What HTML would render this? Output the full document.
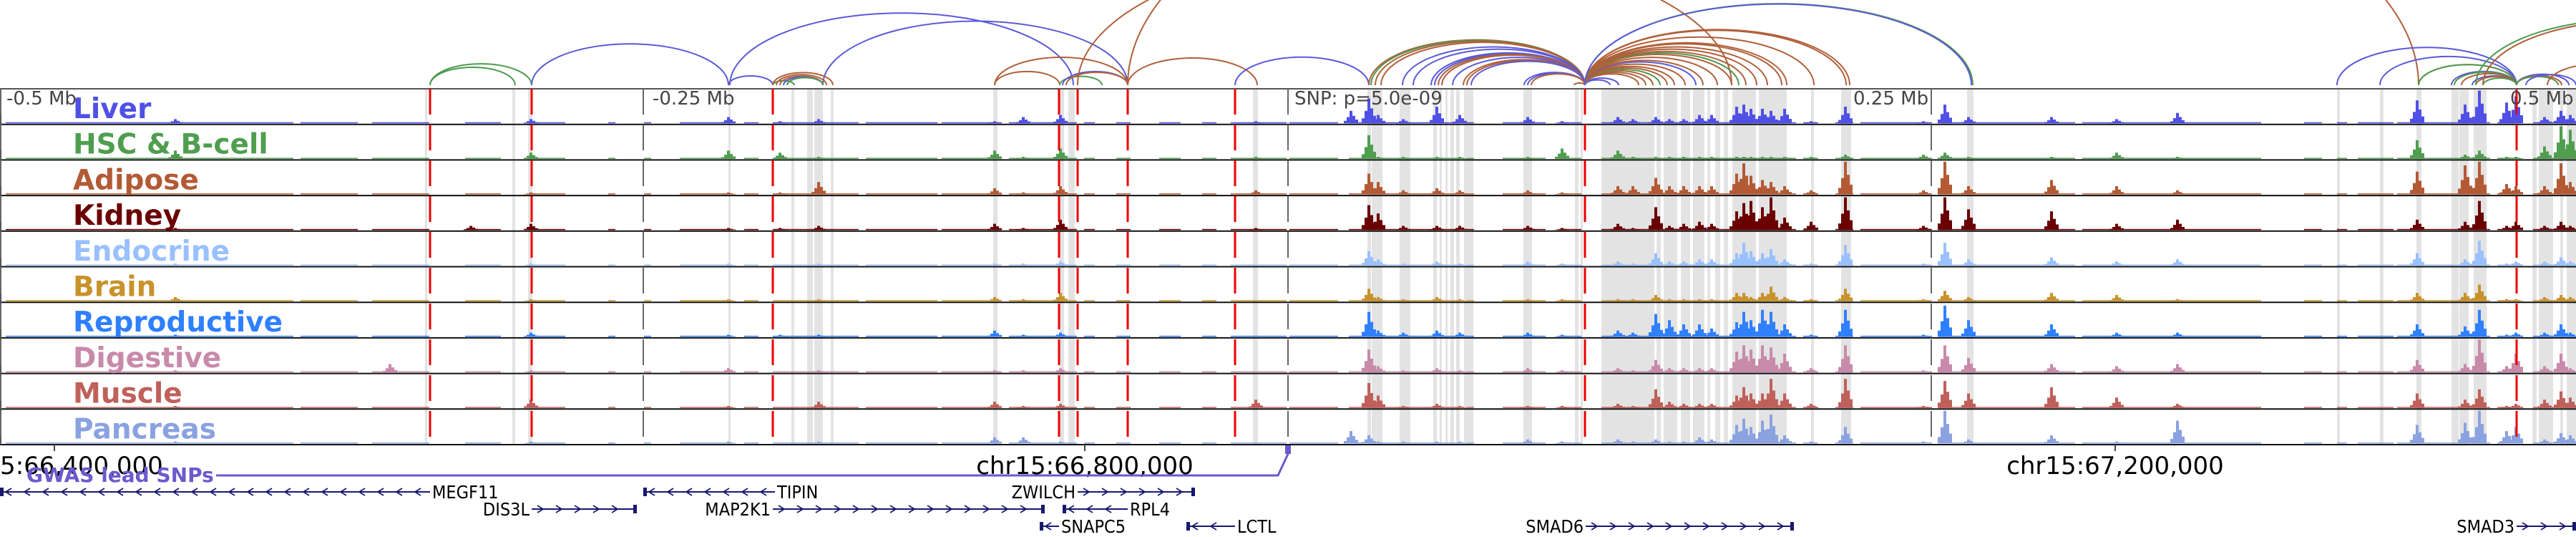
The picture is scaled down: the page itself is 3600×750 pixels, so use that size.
<!DOCTYPE html>
<html><head><meta charset="utf-8">
<style>
html,body{margin:0;padding:0;background:#fff;}
svg{display:block;}
.lbl{font-family:"DejaVu Sans","Liberation Sans",sans-serif;font-weight:bold;font-size:39px;}
.mb{font-family:"DejaVu Sans","Liberation Sans",sans-serif;font-size:26px;fill:#444;}
.ax{font-family:"DejaVu Sans","Liberation Sans",sans-serif;font-size:34px;fill:#000;}
.gene{font-family:"DejaVu Sans Condensed","DejaVu Sans","Liberation Sans",sans-serif;font-size:25px;fill:#000;}
</style></head>
<body>
<svg id="fig" width="3600" height="750" viewBox="0 0 3600 750" xmlns="http://www.w3.org/2000/svg">
  <g id="shade"></g>
  <g id="arcs"></g>
  <g id="tracks"></g>
  <g id="vlines"></g>
  <g id="labels"></g>
  <g id="axis"></g>
  <g id="gwas"></g>
  <g id="genes"></g>
</svg>
<script>
// ---------- data ----------
const tissueNames = ["Liver","HSC & B-cell","Adipose","Kidney","Endocrine","Brain","Reproductive","Digestive","Muscle","Pancreas"];
const tissueColors = ["#5050e6","#4f9e4f","#b35a35","#6b0000","#99c0ff","#c8922a","#2f80ff","#c88aaa","#c0605a","#8aa2e0"];
const peakPosPx = [245,545,658,742,1018,1090,1144,1390,1430,1482,1755,1888,1913,1926,1961,2008,2040,2135,2183,2261,2282,2314,2333,2353,2375,2392,2427,2437,2447,2463,2475,2494,2531,2579,2688,2718,2751,2867,2958,3043,3378,3445,3465,3503,3516,3556,3579,3592];
const peakKb = peakPosPx.map(p => (p-1800)/3.6);
const hLiver = [.1,0,0,.1,.15,.05,.1,.05,.15,.2,.05,.3,.6,.2,.1,.4,.2,.15,.05,.15,.1,.15,.1,.1,.2,.2,.4,.45,.35,.35,.3,.35,.05,.4,.05,.45,.15,.15,.1,.25,.55,.45,.95,.5,.65,.15,.3,.2];
const hHSC = [.2,0,0,.15,.2,.15,.05,.2,.05,.25,.05,0,.57,.05,.05,.05,.05,.05,.25,.2,.05,.05,.05,.05,.05,.05,.05,.05,.05,.05,.05,.05,.05,.1,.1,.15,.05,.05,.15,.05,.45,.1,.2,.05,.05,.3,.95,.7];
const hAdipose = [.02,0,0,.05,.05,.05,.3,.15,.05,.2,.1,0,.5,.3,.1,.15,.1,.1,.05,.2,.2,.4,.2,.2,.2,.2,.5,.75,.45,.35,.3,.2,.1,.95,.1,.95,.2,.35,.2,.1,.55,.7,.95,.25,.2,.2,.75,.3];
const hKidney = [.05,0,.1,.15,.05,.05,.1,.15,.05,.25,.05,0,.6,.4,.1,.1,.1,.1,.05,.15,.05,.55,.1,.15,.2,.15,.45,.65,.7,.55,.95,.3,.2,.85,.1,.8,.5,.45,.15,.25,.25,.2,.7,.1,.2,.1,.2,.1];
const hEndocrine = [.05,0,0,.05,.05,0,.05,.05,.05,.1,0,0,.35,.15,.05,.1,.05,.1,.05,.1,.05,.3,.1,.1,.15,.15,.3,.55,.35,.3,.4,.15,.05,.5,.05,.55,.15,.2,.1,.15,.3,.15,.6,.05,.1,.1,.2,.1];
const hBrain = [.1,0,0,.05,.05,0,.05,.1,.05,.2,0,0,.3,.1,.05,.1,.05,.05,.05,.05,.05,.15,.05,.05,.05,.05,.2,.2,.1,.2,.35,.1,.05,.3,.05,.25,.1,.2,.15,.05,.2,.2,.4,.05,.05,.1,.15,.1];
const hRepro = [.05,0,0,.1,.05,.05,.05,.15,.05,.1,0,0,.6,.15,.1,.15,.1,.1,.05,.15,.1,.55,.4,.3,.3,.2,.35,.6,.4,.65,.6,.3,.05,.65,.05,.75,.4,.3,.1,.1,.3,.25,.65,.05,.1,.1,.3,.1];
const hDigestive = [.05,.2,0,.05,.1,0,.05,.05,.05,.1,0,0,.55,.15,.05,.1,.05,.1,.05,.1,.05,.3,.1,.1,.1,.1,.5,.65,.55,.65,.6,.45,.1,.65,.05,.65,.35,.2,.15,.2,.3,.2,.95,.15,.45,.15,.45,.1];
const hMuscle = [.05,0,0,.2,.05,0,.15,.15,.05,.1,.2,0,.6,.3,.05,.1,.05,.05,.05,.1,.05,.45,.15,.1,.1,.1,.3,.5,.35,.35,.7,.35,.1,.7,.05,.65,.35,.5,.25,.1,.35,.2,.45,.05,.1,.2,.4,.25];
const hPancreas = [.05,0,0,.05,.05,0,.05,.15,.15,.05,0,.3,.2,.05,.05,.05,.05,.1,.05,.1,.05,.1,.05,.05,.15,.1,.45,.6,.4,.55,.7,.2,.05,.4,.05,.8,.1,.2,.05,.55,.45,.5,.95,.3,.4,.1,.25,.2];
const heightsByTrack = [hLiver,hHSC,hAdipose,hKidney,hEndocrine,hBrain,hRepro,hDigestive,hMuscle,hPancreas];
const baseSegs = [[8,410],[420,500],[520,600],[650,700],[740,790],[850,860],[900,910],[950,1020],[1040,1060],[1080,1200],[1210,1310],[1316,1400],[1410,1505],[1515,1530],[1560,1580],[1620,1650],[1680,1700],[1720,1798],[1802,1870],[1885,2040],[2050,2060],[2100,2160],[2180,2210],[2238,2510],[2520,2540],[2565,2590],[2600,2700],[2710,2900],[2910,3160],[3220,3245],[3266,3280],[3295,3345],[3350,3480],[3490,3520],[3540,3600]];
const shadeRanges = [[594,597],[716,720],[738,744],[1018,1021],[1106,1110],[1128,1136],[1138,1150],[1161,1165],[1388,1394],[1481,1487],[1493,1502],[1751,1758],[1911,1916],[1917,1932],[1956,1971],[2003,2008],[2012,2015],[2020,2023],[2027,2032],[2035,2040],[2046,2059],[2129,2141],[2201,2206],[2209,2212],[2238,2312],[2315,2321],[2325,2344],[2349,2362],[2366,2382],[2386,2390],[2397,2404],[2409,2415],[2421,2454],[2458,2497],[2531,2535],[2573,2587],[2749,2758],[3266,3270],[3326,3331],[3377,3384],[3426,3436],[3437,3450],[3457,3475],[3539,3545],[3548,3568],[3578,3582],[3587,3600]];
const redLines = [601,743,1080,1480,1506,1576,1726,2215,3517];
const grayLines = [1,899,1800,2699];
const arcStart = [601,601,743,1018,1020,1150,1080,1080,1085,1090,1095,1100,1390,1390,1481,1485,1490,1506,1576,1576,1726,
 1913,1916,1922,1930,1960,1975,2000,2005,2010,2015,2030,2045,2050,2056,2130,2135,2140,2200,
 2215,2215,2215,2215,2215,2215,2215,2215,2215,2215,2215,2215,2215,2215,2215,2215,2215,2215,2215,2215,2215,2215,2215,2215,
 3266,3326,3380,3380,3426,3430,3440,3455,3460,3470,3517,3517,3517,3530,3460,3470,3560];
const arcEnd = [743,720,1018,1080,1500,1576,1110,1164,1155,1150,1150,1150,1481,1576,1540,1576,1576,2420,1757,3380,1913,
 2215,2215,2215,2215,2215,2215,2215,2215,2215,2215,2215,2215,2215,2215,2215,2215,2215,2215,
 2250,2262,2290,2300,2310,2320,2330,2340,2355,2370,2380,2400,2420,2430,2440,2455,2470,2490,2497,2535,2580,2585,2757,2755,
 3517,3517,3517,3517,3517,3517,3517,3517,3517,3517,3590,3580,3575,3600,3900,3900,3700];
const arcType = ["g","g","l","l","l","l","g","b","b","b","l","g","b","b","g","l","b","b","b","b","l",
 "b","g","b","b","l","l","l","l","b","b","l","b","b","l","l","l","b","b",
 "l","l","b","b","b","g","b","b","b","l","b","b","b","g","b","b","b","b","b","b","b","b","g","l",
 "l","l","b","g","l","g","b","l","b","g","l","b","g","l","g","b","b"];
const arcColors = {l:"#5a5ad8",g:"#4e9a4e",b:"#b0603a"};
const tickPos = [66400000,66800000,67200000];
const tickLabels = ["chr15:66,400,000","chr15:66,800,000","chr15:67,200,000"];
const mbLabels = ["-0.5 Mb","-0.25 Mb","SNP: p=5.0e-09","0.25 Mb","0.5 Mb"];
const geneNames = ["MEGF11","DIS3L","TIPIN","MAP2K1","ZWILCH","RPL4","SNAPC5","LCTL","SMAD6","SMAD3"];
const geneStart = [0,743,899,1080,1506,1485,1453,1658,2216,3517];
const geneEnd = [601,890,1083,1460,1670,1576,1480,1726,2507,3600];
const geneRow = [0,1,0,1,0,1,2,2,2,2];
const geneStrand = [-1,1,-1,1,1,-1,-1,-1,1,1];
const geneLabelLeft = [false,true,false,true,true,false,false,false,true,true];

// ---------- scales ----------
const NS = "http://www.w3.org/2000/svg";
const TOP = 124, TH = 49.7, NT = 10, MAXH = 58;
const xKb = kb => 1800 + kb*3.6;
const xG = g => 76 + (g-66400000)/1000*3.6;
function el(tag, attrs, parent){ const e=document.createElementNS(NS,tag); for(const k in attrs) e.setAttribute(k,attrs[k]); parent.appendChild(e); return e; }

const gS = document.getElementById('shade');
shadeRanges.forEach(r=>{
  const e = el('rect',{x:r[0],y:TOP,width:r[1]-r[0],height:TH*NT,fill:'#e3e3e3'},gS);
  
  
});

const gA = document.getElementById('arcs');
const ARCBASE = 119;
const clip = el('clipPath',{id:'arcclip'},gA); el('rect',{x:0,y:0,width:3600,height:ARCBASE+1},clip);
const gAc = el('g',{'clip-path':'url(#arcclip)'},gA);
arcStart.forEach((s,i)=>{
  const e2 = arcEnd[i], rx=(e2-s)/2, ry=0.42*rx;
  const p = el('path',{d:`M${s},${ARCBASE} A${rx},${ry} 0 0 1 ${e2},${ARCBASE}`,fill:'none',stroke:arcColors[arcType[i]],'stroke-width':2},gAc);
  
  
});

const gT = document.getElementById('tracks');
for(let t=0;t<NT;t++){
  const top = TOP+t*TH, base = top+TH-1.5, col = tissueColors[t];
  const g = el('g',{},gT);
  
  
  baseSegs.forEach(s=>{ el('rect',{x:s[0],y:base-1.5,width:s[1]-s[0],height:1.5,fill:col},g); });
  const hs = heightsByTrack[t];
  peakKb.forEach((kb,i)=>{
    const h=Math.min((hs[i]||0)*MAXH, TH-4); if(h<=0) return; const x=xKb(kb);
    const shape=[[-10,0.2],[-6,0.5],[-2,1],[2,0.6],[6,0.3]];
    shape.forEach(([dx,f])=>{
      const b = el('rect',{x:x+dx,y:base-h*f,width:4,height:h*f,fill:col},g);
      
      
    });
  });
  el('line',{x1:0,x2:3600,y1:top+TH,y2:top+TH,stroke:'#111','stroke-width':2},g);
}
el('line',{x1:0,x2:3600,y1:TOP,y2:TOP,stroke:'#555','stroke-width':2},gT);
el('line',{x1:1,x2:1,y1:TOP,y2:TOP+TH*NT,stroke:'#555','stroke-width':2},gT);

const gV = document.getElementById('vlines');
grayLines.forEach(x=>{ const l=el('line',{x1:x,x2:x,y1:TOP,y2:TOP+TH*NT,stroke:'#666','stroke-width':2,'stroke-dasharray':'36 14'},gV);
    });
redLines.forEach(x=>{ const l=el('line',{x1:x,x2:x,y1:TOP,y2:TOP+TH*NT,stroke:'#ee0000','stroke-width':3,'stroke-dasharray':'36 14'},gV);
    });

const gL = document.getElementById('labels');
tissueNames.forEach((n,t)=>{ const tx=el('text',{x:102,y:TOP+t*TH+41,class:'lbl',fill:tissueColors[t]},gL); tx.textContent=n;
    });
const mbX=[9,912,1809,2590,3508];
mbLabels.forEach((m,i)=>{ const tx=el('text',{x:mbX[i],y:146,class:'mb'},gL); tx.textContent=m;
    });

const gX = document.getElementById('axis');
tickPos.forEach((g,i)=>{ const x=xG(g);
  el('line',{x1:x,x2:x,y1:TOP+TH*NT,y2:TOP+TH*NT+9,stroke:'#444','stroke-width':2},gX);
  const tx=el('text',{x:x,y:662,class:'ax','text-anchor':'middle'},gX); tx.textContent=tickLabels[i];
    });

const gW = document.getElementById('gwas');
el('polyline',{points:'302,664 1786,664 1800,634 1800,624',fill:'none',stroke:'#6a5acd','stroke-width':3},gW);
el('rect',{x:1796,y:622,width:8,height:12,fill:'#6a5acd'},gW);
const gt=el('text',{x:37,y:673,class:'lbl',fill:'#6a5acd',style:'font-size:28px'},gW); gt.textContent='GWAS lead SNPs';



const gG = document.getElementById('genes');
const rowY=[687,711,735];
geneNames.forEach((n,i)=>{
  const y=rowY[geneRow[i]], s=geneStart[i], e2=geneEnd[i];
  const g=el('g',{},gG);
  
  
  el('line',{x1:s,x2:e2,y1:y,y2:y,stroke:'#191970','stroke-width':2},g);
  for(let x=s+12;x<e2-6;x+=26){ const d=geneStrand[i];
    el('polyline',{points:`${x-4*d},${y-5} ${x+4*d},${y} ${x-4*d},${y+5}`,fill:'none',stroke:'#191970','stroke-width':1.8},g); }
  el('rect',{x:geneStrand[i]>0?e2-5:s,y:y-6,width:5,height:12,fill:'#191970'},g);
  const tx=el('text',{x:geneLabelLeft[i]?s-3:e2+3,y:y+9,class:'gene','text-anchor':geneLabelLeft[i]?'end':'start'},g);
  tx.textContent=n;
});
</script>
</body></html>
